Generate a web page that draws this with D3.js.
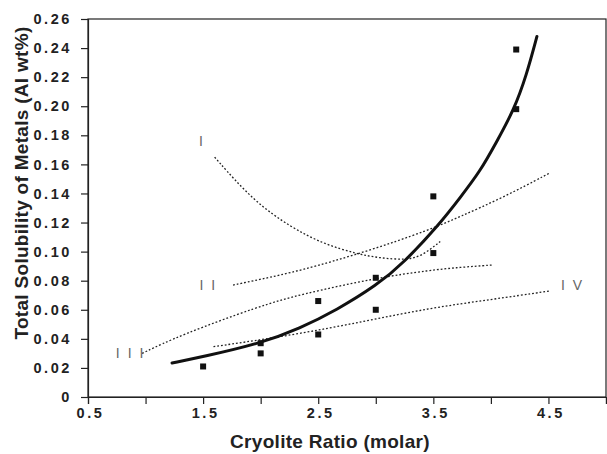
<!DOCTYPE html>
<html>
<head>
<meta charset="utf-8">
<script src="https://cdn.jsdelivr.net/npm/d3@7"></script>
<style>
  body { margin: 0; background: #fff; }
  svg { display: block; }
  .tick-lbl { font-family: "Liberation Sans", Arial, sans-serif; font-weight: bold; font-size: 14.5px; fill: #222; letter-spacing: 2.6px; }
  .axis-title { font-family: "Liberation Sans", Arial, sans-serif; font-weight: bold; font-size: 19px; fill: #222; letter-spacing: 0.3px; }
  .roman { font-family: "Liberation Sans", Arial, sans-serif; font-size: 14px; fill: #666; letter-spacing: 2px; }
</style>
</head>
<body>
<div id="chart"></div>
<script>
// axis ticks
var xTickVals = [0.5, 1, 1.5, 2, 2.5, 3, 3.5, 4, 4.5, 5];
var xTickLabels = ["0.5", "", "1.5", "", "2.5", "", "3.5", "", "4.5", ""];
var yTickVals = [0, 0.02, 0.04, 0.06, 0.08, 0.10, 0.12, 0.14, 0.16, 0.18, 0.20, 0.22, 0.24, 0.26];
var yTickLabels = ["0", "0.02", "0.04", "0.06", "0.08", "0.10", "0.12", "0.14", "0.16", "0.18", "0.20", "0.22", "0.24", "0.26"];

// measured points
var ratioPts = [1.5, 2.0, 2.0, 2.5, 2.5, 3.0, 3.0, 3.5, 3.5, 4.22, 4.22];
var solubPts = [0.021, 0.037, 0.030, 0.066, 0.043, 0.082, 0.060, 0.138, 0.099, 0.239, 0.198];

// fitted total curve (solid)
var fitX = [1.23, 1.50, 2.0, 2.34, 2.66, 3.01, 3.24, 3.56, 3.73, 3.905, 4.05, 4.20, 4.31, 4.40];
var fitY = [0.0234, 0.0277, 0.0369, 0.0472, 0.0598, 0.077, 0.092, 0.1195, 0.1369, 0.155, 0.1756, 0.1974, 0.2215, 0.2480];

// dotted curves I - IV
var curveIX = [1.60, 1.94, 2.27, 2.54, 2.83, 3.04, 3.26, 3.40, 3.56];
var curveIY = [0.165, 0.1345, 0.1165, 0.1055, 0.0985, 0.0955, 0.0943, 0.0968, 0.107];
var curveIIX = [1.76, 1.99, 2.34, 2.90, 3.47, 3.73, 4.10, 4.51];
var curveIIY = [0.077, 0.0808, 0.0868, 0.0995, 0.115, 0.124, 0.137, 0.154];
var curveIIIX = [0.97, 1.30, 1.99, 2.34, 3.01, 3.47, 3.73, 4.02];
var curveIIIY = [0.030, 0.0425, 0.0625, 0.0705, 0.0820, 0.0872, 0.0892, 0.0908];
var curveIVX = [1.59, 2.28, 2.90, 3.47, 4.00, 4.51];
var curveIVY = [0.0346, 0.0426, 0.052, 0.0612, 0.067, 0.0729];

var romanNames = ["I", "I I", "I I I", "I V"];
var romanX = [1.49, 1.545, 0.87, 4.71];
var romanY = [0.176, 0.077, 0.0303, 0.077];

var W = 607, H = 454;
var margin = { left: 88, right: 1, top: 19, bottom: 57 };

var svg = d3.select("#chart").append("svg")
    .attr("width", W)
    .attr("height", H);

var x = d3.scaleLinear().domain([0.5, 5]).range([margin.left, W - margin.right]);
var y = d3.scaleLinear().domain([0, 0.26]).range([H - margin.bottom, margin.top]);

// frame
svg.append("rect")
    .attr("x", x(0.5)).attr("y", y(0.26))
    .attr("width", x(5) - x(0.5)).attr("height", y(0) - y(0.26))
    .attr("fill", "none").attr("stroke", "#222").attr("stroke-width", 1.2);

// X axis
var xAxis = d3.axisBottom(x)
    .tickValues(xTickVals)
    .tickSize(7)
    .tickPadding(4)
    .tickFormat(function(d, i) { return xTickLabels[i]; });
var gx = svg.append("g")
    .attr("transform", "translate(0," + y(0) + ")")
    .call(xAxis);
gx.select(".domain").attr("stroke", "#222").attr("stroke-width", 1.2);
gx.selectAll(".tick line").attr("stroke", "#222").attr("stroke-width", 1.2);
gx.selectAll(".tick text")
    .attr("class", "tick-lbl")
    .attr("dx", "2px");

// Y axis
var yAxis = d3.axisLeft(y)
    .tickValues(yTickVals)
    .tickSize(7)
    .tickPadding(11)
    .tickFormat(function(d, i) { return yTickLabels[i]; });
var gy = svg.append("g")
    .attr("transform", "translate(" + x(0.5) + ",0)")
    .call(yAxis);
gy.select(".domain").attr("stroke", "#222").attr("stroke-width", 1.2);
gy.selectAll(".tick line").attr("stroke", "#222").attr("stroke-width", 1.2);
gy.selectAll(".tick text")
    .attr("class", "tick-lbl")
    .attr("dx", "2px");

// axis titles
svg.append("text")
    .attr("class", "axis-title")
    .attr("x", 330).attr("y", 448)
    .attr("text-anchor", "middle")
    .text("Cryolite Ratio (molar)");

svg.append("text")
    .attr("class", "axis-title")
    .attr("transform", "translate(28,183) rotate(-90)")
    .attr("text-anchor", "middle")
    .text("Total Solubility  of Metals (Al wt%)");

// dotted curves
var line = d3.line()
    .x(function(d) { return x(d[0]); })
    .y(function(d) { return y(d[1]); })
    .curve(d3.curveBasis);

var dotted = [[curveIX, curveIY], [curveIIX, curveIIY], [curveIIIX, curveIIIY], [curveIVX, curveIVY]];
dotted.forEach(function(c) {
    svg.append("path")
        .datum(c[0].map(function(v, i) { return [v, c[1][i]]; }))
        .attr("d", line)
        .attr("fill", "none")
        .attr("stroke", "#222")
        .attr("stroke-width", 1.3)
        .attr("stroke-dasharray", "1.8,2");
});

// roman labels
svg.selectAll(".roman")
    .data(romanNames)
    .enter().append("text")
    .attr("class", "roman")
    .attr("x", function(d, i) { return x(romanX[i]); })
    .attr("y", function(d, i) { return y(romanY[i]); })
    .attr("dy", "0.35em")
    .attr("text-anchor", "middle")
    .text(function(d) { return d; });

// fitted solid curve
svg.append("path")
    .datum(fitX.map(function(v, i) { return [v, fitY[i]]; }))
    .attr("d", line)
    .attr("fill", "none")
    .attr("stroke", "#111")
    .attr("stroke-width", 3)
    .attr("stroke-linecap", "round");

// points
var sz = 6;
svg.selectAll(".pt")
    .data(ratioPts)
    .enter().append("rect")
    .attr("class", "pt")
    .attr("x", function(d) { return x(d) - sz / 2; })
    .attr("y", function(d, i) { return y(solubPts[i]) - sz / 2; })
    .attr("width", sz).attr("height", sz)
    .attr("fill", "#111");
</script>
</body>
</html>
